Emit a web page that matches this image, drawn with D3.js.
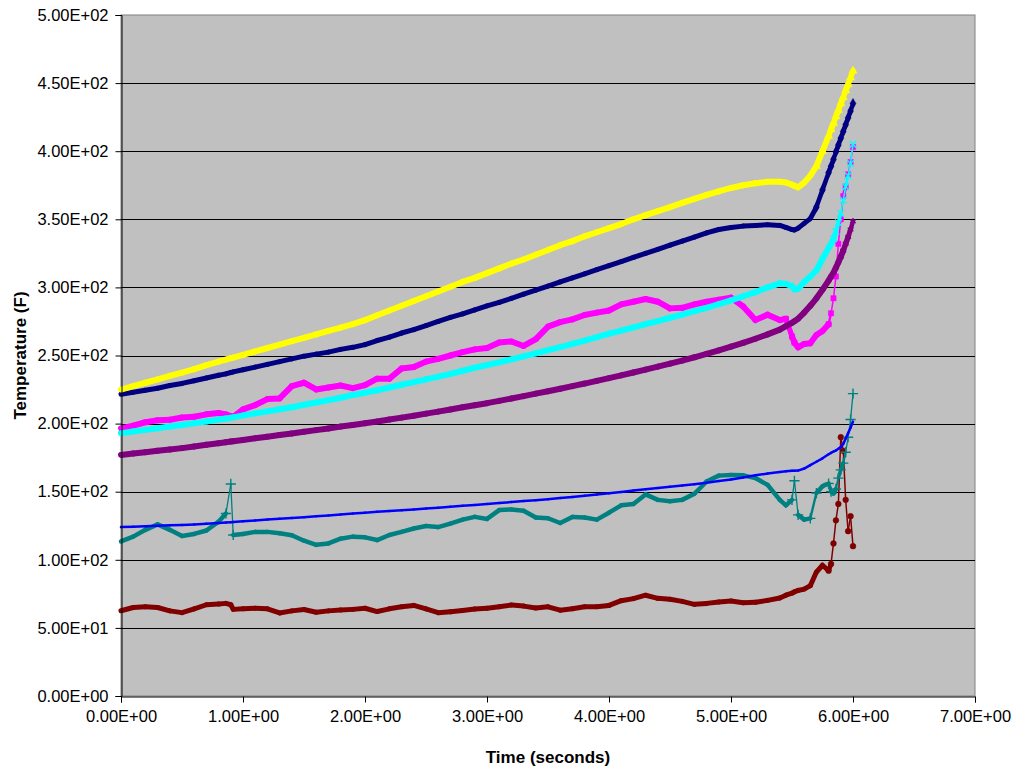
<!DOCTYPE html>
<html>
<head>
<meta charset="utf-8">
<script src="https://cdn.jsdelivr.net/npm/d3@7"></script>
<style>
  html, body { margin: 0; padding: 0; background: #ffffff; }
  svg { display: block; }
  text { font-family: "Liberation Sans", Arial, sans-serif; fill: #000; }
</style>
</head>
<body>
<svg id="chart" width="1015" height="772"></svg>
<script>
// ---------------- DATA ----------------
const xTicks = [0, 1, 2, 3, 4, 5, 6, 7];
const yTicks = [0, 50, 100, 150, 200, 250, 300, 350, 400, 450, 500];
const xTitle = "Time (seconds)";
const yTitle = "Temperature (F)";

const times = [0,0.1,0.2,0.3,0.4,0.5,0.6,0.7,0.8,0.86,0.9,0.92,
  1.0,1.1,1.2,1.3,1.4,1.5,1.6,1.7,1.8,1.9,
  2.0,2.1,2.2,2.3,2.4,2.5,2.6,2.7,2.8,2.9,
  3.0,3.1,3.2,3.3,3.4,3.5,3.6,3.7,3.8,3.9,
  4.0,4.1,4.2,4.3,4.4,4.5,4.6,4.7,4.8,4.9,
  5.0,5.1,5.2,5.3,5.4,
  5.45,5.5,5.52,5.55,5.6,5.65,5.7,5.75,5.8,
  5.82,5.84,5.86,5.88,5.9,5.92,5.94,5.96,5.98,6.0];

const navySeries = [221.5,223,224.5,226,228,229.5,231.5,233.5,235.5,236.5,237.5,238,
  239.5,241.5,243.5,245.5,247.5,249.5,251,252.5,254.5,256,
  258,261,263.5,266.5,269,272,275,278,280.5,283.5,
  286.5,289,292,295,298,301,304,307,310,313,
  316,319,322,325,328,331,334,337,340,342.5,
  344,345,345.5,346,345.5,
  344,342.5,342.2,343.5,347,350.5,359,371.6,384.2,
  389,394,399.5,404.5,409.5,414.5,419.5,424.5,429.5,435];

const magentaSeries = [196.5,198.5,201,202.5,202.8,204.5,205,206.8,207.8,206.8,205.5,205,
  210.5,213.6,218,218.5,227.5,230,225.1,226.5,228,226,
  228.3,233,233,240.5,241.5,245.5,247.5,250,252.5,254.5,
  255.5,259.5,260.3,257,262,271.2,274.5,276.5,279.7,281.5,
  283,287.5,289.5,291.5,289.5,284.6,285,287.5,289.5,291,
  292.5,286,276,280,276,
  277,264,259.5,256,258.5,259,265,268,273,
  281,292,308,332,350,367,374,383,392,403];

const yellowSeries = [225,227.5,230,232.5,235,237.5,240,243,245.5,247,248,248.5,
  250.5,253,255.5,258,260.5,263,265.5,268,270.5,273,
  276,279.5,283,286.5,290,293.5,297,300.5,304,307,
  310.5,314,317.5,320.5,324,327.5,331,334,337.5,340.5,
  343.5,346.5,350,353,356,359,362,365,368,370.5,
  373,375,376.5,377.5,377.5,
  377,375.5,374.5,373.5,377,382,389,400,411,
  416,420.5,425.5,430,435,439.5,444.5,449,454,459];

const cyanSeries = [193,194.2,195.4,196.6,197.8,199,200.3,201.6,203,203.8,204.3,204.6,
  206,207.5,209,210.5,212,213.8,215.5,217.2,219,221,
  222.7,224.5,226.5,228.5,230.5,232.5,234.5,236.5,238.8,241,
  243,245,247.2,249.4,251.6,254,256.2,258.5,261,263.5,
  266,268.3,270.6,273,275.3,277.7,280,282.5,285,287.8,
  290.5,293.5,296.5,300,303,
  302.5,301,298.5,299,304,308,312.5,321,329,
  332,335.5,341,347.5,354.5,364,374,382,391,405];

const purpleSeries = [177,178,179,180,181,182,183.2,184.4,185.6,186.3,186.8,187,
  188,189.2,190.4,191.6,192.8,194,195.2,196.4,197.8,199,
  200.3,201.6,203,204.4,205.8,207.3,208.8,210.4,212,213.5,
  215,216.7,218.4,220.2,222,223.8,225.6,227.5,229.4,231.4,
  233.4,235.4,237.5,239.6,241.8,244,246.3,248.7,251.2,253.8,
  256.5,259.3,262.3,265.5,269,
  271.5,274,275.2,277,281.5,286.5,292,298.3,305,
  308,310.7,314.5,318.5,322.5,327,332,337,342.5,348.5];

const maroonSeries = [62.6,65,65.5,65,62.5,61.2,64,67,67.5,68,67,63.6,
  64,64.5,64,61,62.5,63.5,61.5,62.5,63.2,63.6,
  64.4,62,64,65.5,66.5,64,61.2,61.8,62.8,63.8,
  64.5,65.5,66.8,66,64.6,65.5,63,64,65.5,65.6,
  66.5,70,71.5,74,71.7,71,69.5,67.3,68,69,
  69.8,68.5,68.8,70.2,72,
  74,75.5,76.5,77.5,78.5,81,91,96,92,
  97,112,129,141,190,180,144,121,132,110];

const tealSeries = [113.5,117,122,126,122,117.5,119,121.5,128,134,155.7,118.2,
  119,120.5,120.5,119.5,118,114,111,112,115.5,117,
  116.5,114.5,118.2,120.5,123,124.8,124,126.5,129.5,131.5,
  130,136.5,137,136,131,130.5,127,131.5,131,129.5,
  134.6,140,141,148,144,143,144,148.5,157.5,161.8,
  162.3,162,160,155,144,
  140,144,158,133,129.5,130.4,149,154,156,
  150,148.7,152,160,166,171,179,190,203,222];

const blueSeries = [124,124.3,124.6,125,125.3,125.6,126,126.5,127,127.3,127.6,127.8,
  128.3,128.9,129.5,130.1,130.7,131.3,132,132.6,133.3,134,
  134.6,135.2,135.8,136.4,137,137.6,138.3,139,139.6,140.3,
  141,141.7,142.4,143.1,143.8,144.5,145.3,146.1,147,147.9,
  148.8,149.8,150.8,151.8,152.7,153.6,154.5,155.5,156.6,157.8,
  159,160.5,162,163.3,164.5,
  165,165.4,165.4,165.5,167,169.5,172,174.5,177.5,
  178.5,179.5,180.3,181.5,182.8,185,189,193,197,201.5];

// Series order = drawing order (later on top)
const seriesNames  = ["navy", "magenta", "yellow", "cyan", "purple", "maroon", "teal", "blue"];
const seriesValues = [navySeries, magentaSeries, yellowSeries, cyanSeries, purpleSeries, maroonSeries, tealSeries, blueSeries];
const seriesColors = ["#000080", "#FF00FF", "#FFFF00", "#00FFFF", "#800080", "#800000", "#008080", "#0000FF"];

// ---------------- LAYOUT / STYLE ----------------
const plot = { left: 121, top: 15, right: 975, bottom: 696 };
const thickW = { navy: 5, magenta: 6, yellow: 6, cyan: 6, purple: 6, maroon: 5, teal: 4.5, blue: 2.5 };
const thinW  = { navy: 1.5, magenta: 1.5, yellow: 1.5, cyan: 1.5, purple: 1.5, maroon: 1.5, teal: 1.3, blue: 2 };
const markerDefs = {
  navy:    { type: d3.symbolDiamond, size: 30, fill: true },
  magenta: { type: d3.symbolSquare, size: 28, fill: true },
  yellow:  { type: d3.symbolTriangle, size: 30, fill: true },
  cyan:    { type: d3.symbolTimes, size: 30, fill: false },
  purple:  { type: d3.symbolAsterisk, size: 30, fill: false },
  maroon:  { type: d3.symbolCircle, size: 26, fill: true },
  teal:    { type: d3.symbolPlus, size: 36, fill: false },
  blue:    null
};

const fmtE = d => {
  const parts = d.toExponential(2).split("e");
  const sign = parts[1][0];
  const n = Math.abs(+parts[1]);
  return parts[0] + "E" + sign + String(n).padStart(2, "0");
};

const svg = d3.select("#chart");
const x = d3.scaleLinear().domain([0, 7]).range([plot.left, plot.right]);
const y = d3.scaleLinear().domain([0, 500]).range([plot.bottom, plot.top]);

// plot background
svg.append("rect")
  .attr("x", plot.left).attr("y", plot.top)
  .attr("width", plot.right - plot.left).attr("height", plot.bottom - plot.top)
  .attr("fill", "#C0C0C0").attr("stroke", "#808080").attr("stroke-width", 1);

// gridlines
svg.append("g").selectAll("line")
  .data(yTicks.filter(v => v > 0 && v < 500))
  .join("line")
  .attr("x1", plot.left).attr("x2", plot.right)
  .attr("y1", d => Math.round(y(d)) + 0.5).attr("y2", d => Math.round(y(d)) + 0.5)
  .attr("stroke", "#000").attr("stroke-width", 1);

// series
const gSeries = svg.append("g");
seriesNames.forEach((name, si) => {
  const vals = seriesValues[si];
  const color = seriesColors[si];
  const g = gSeries.append("g");
  const segs = [];
  const slopes = [];
  for (let i = 0; i < vals.length - 1; i++) {
    const x1 = x(times[i]), y1 = y(vals[i]), x2 = x(times[i + 1]), y2 = y(vals[i + 1]);
    const slope = Math.abs(y2 - y1) / Math.max(0.01, x2 - x1);
    slopes.push(slope);
    let w;
    if (slope <= 2.5) w = thickW[name];
    else if (slope >= 5) w = thinW[name];
    else w = thickW[name] + (thinW[name] - thickW[name]) * (slope - 2.5) / 2.5;
    segs.push({ x1, y1, x2, y2, w });
  }
  g.selectAll("line").data(segs).join("line")
    .attr("x1", d => d.x1).attr("y1", d => d.y1)
    .attr("x2", d => d.x2).attr("y2", d => d.y2)
    .attr("stroke", color)
    .attr("stroke-width", d => d.w)
    .attr("stroke-linecap", "round");
  const md = markerDefs[name];
  if (md) {
    const pts = vals.map((v, i) => ({ t: times[i], v,
      s: Math.max(i > 0 ? slopes[i - 1] : 0, i < slopes.length ? slopes[i] : 0) }))
      .filter(p => p.s > 2.4);
    const sym = d3.symbol().type(md.type).size(md.size);
    g.selectAll("path").data(pts).join("path")
      .attr("d", sym)
      .attr("transform", d => `translate(${x(d.t)},${y(d.v)})`)
      .attr("fill", md.fill ? color : "none")
      .attr("stroke", color)
      .attr("stroke-width", md.fill ? 0.5 : 1.4);
  }
});

// axes
const yAxis = d3.axisLeft(y).tickValues(yTicks).tickFormat(fmtE).tickSize(6).tickPadding(7);
const gy = svg.append("g").attr("transform", `translate(${plot.left + 0.5},0)`).call(yAxis);
const xAxis = d3.axisBottom(x).tickValues(xTicks).tickFormat(fmtE).tickSize(6).tickPadding(8);
const gx = svg.append("g").attr("transform", `translate(0,${plot.bottom + 0.5})`).call(xAxis);
[gx, gy].forEach(g => {
  g.select(".domain").attr("stroke", "#000");
  g.selectAll(".tick line").attr("stroke", "#000");
  g.selectAll(".tick text")
    .attr("font-family", '"Liberation Sans", Arial, sans-serif')
    .attr("font-size", 16.5).attr("fill", "#000");
});

// titles
svg.append("text")
  .attr("x", (plot.left + plot.right) / 2).attr("y", 763)
  .attr("text-anchor", "middle")
  .attr("font-size", 17).attr("font-weight", "bold")
  .text(xTitle);
svg.append("text")
  .attr("transform", `translate(26,${(plot.top + plot.bottom) / 2}) rotate(-90)`)
  .attr("text-anchor", "middle")
  .attr("font-size", 17).attr("font-weight", "bold")
  .text(yTitle);
</script>
</body>
</html>
